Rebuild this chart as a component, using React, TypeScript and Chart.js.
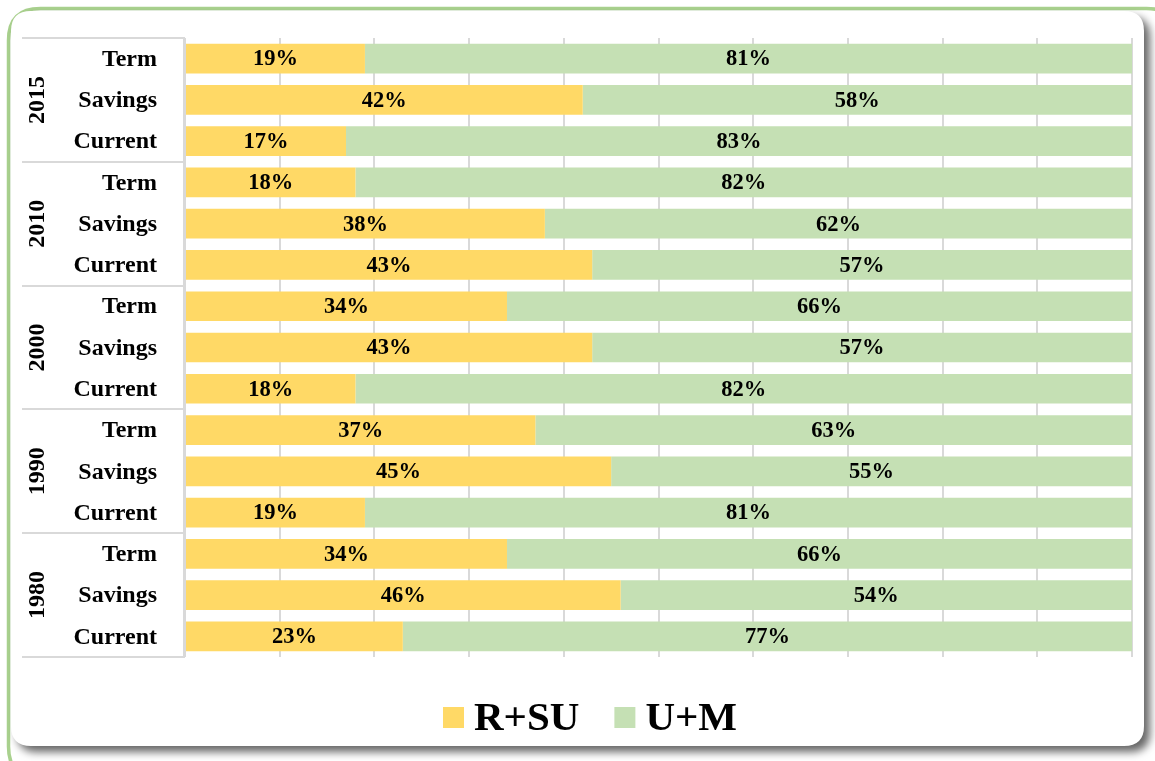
import React, { useEffect, useRef } from 'react';
import { Chart, registerables } from 'chart.js';

Chart.register(...registerables);

const years = ['2015', '2010', '2000', '1990', '1980'];
const accountTypes = ['Term', 'Savings', 'Current'];
const categories = years.flatMap((y) => accountTypes.map((t) => `${y} ${t}`));
const rsuValues = [19, 42, 17, 18, 38, 43, 34, 43, 18, 37, 45, 19, 34, 46, 23];
const umValues = [81, 58, 83, 82, 62, 57, 66, 57, 82, 63, 55, 81, 66, 54, 77];
const seriesNames = ['R+SU', 'U+M'];
const seriesColors = ['#FFD966', '#C5E0B4'];

const W = 1155;
const H = 761;
const SERIF = '"Liberation Serif", "Times New Roman", Times, serif';

function roundRect(ctx: CanvasRenderingContext2D, x: number, y: number, w: number, h: number, r: number) {
  ctx.beginPath();
  ctx.moveTo(x + r, y);
  ctx.lineTo(x + w - r, y);
  ctx.quadraticCurveTo(x + w, y, x + w, y + r);
  ctx.lineTo(x + w, y + h - r);
  ctx.quadraticCurveTo(x + w, y + h, x + w - r, y + h);
  ctx.lineTo(x + r, y + h);
  ctx.quadraticCurveTo(x, y + h, x, y + h - r);
  ctx.lineTo(x, y + r);
  ctx.quadraticCurveTo(x, y, x + r, y);
  ctx.closePath();
}

const framePlugin = {
  id: 'frame',
  beforeDraw(chart: any) {
    const ctx = chart.ctx as CanvasRenderingContext2D;
    ctx.save();
    ctx.fillStyle = '#ffffff';
    ctx.fillRect(0, 0, W, H);
    ctx.strokeStyle = '#A9D18E';
    ctx.lineWidth = 3.5;
    roundRect(ctx, 8.5, 8.5, 1170, 770, 32);
    ctx.stroke();
    ctx.shadowColor = 'rgba(0,0,0,0.6)';
    ctx.shadowBlur = 8;
    ctx.shadowOffsetX = 6;
    ctx.shadowOffsetY = 6;
    ctx.fillStyle = '#ffffff';
    roundRect(ctx, 11, 11, 1133, 735, 20);
    ctx.fill();
    ctx.restore();
  },
};

const overlayPlugin = {
  id: 'overlay',
  afterDatasetsDraw(chart: any) {
    const ctx = chart.ctx as CanvasRenderingContext2D;
    const area = chart.chartArea;
    const yScale = chart.scales.y;
    ctx.save();

    // table lines on the left
    ctx.strokeStyle = '#D9D9D9';
    ctx.lineWidth = 2;
    const groupH = (area.bottom - area.top) / years.length;
    for (let k = 0; k <= years.length; k++) {
      const yy = Math.round(area.top + k * groupH);
      ctx.beginPath();
      ctx.moveTo(22, yy);
      ctx.lineTo(area.left, yy);
      ctx.stroke();
    }
    ctx.beginPath();
    ctx.moveTo(area.left - 1, area.top);
    ctx.lineTo(area.left - 1, area.bottom);
    ctx.stroke();

    // category labels
    ctx.fillStyle = '#000000';
    ctx.font = `bold 24px ${SERIF}`;
    ctx.textAlign = 'right';
    ctx.textBaseline = 'middle';
    categories.forEach((_, i) => {
      const yy = yScale.getPixelForValue(i);
      ctx.fillText(accountTypes[i % accountTypes.length], 157, yy + 1);
    });

    // year labels (rotated)
    years.forEach((yr, g) => {
      const cy = area.top + (g + 0.5) * groupH;
      ctx.save();
      ctx.translate(38, cy);
      ctx.rotate(-Math.PI / 2);
      ctx.textAlign = 'center';
      ctx.textBaseline = 'middle';
      ctx.fillText(yr, 0, 0);
      ctx.restore();
    });

    // data labels
    ctx.font = `bold 22.5px ${SERIF}`;
    ctx.textAlign = 'center';
    ctx.textBaseline = 'middle';
    chart.data.datasets.forEach((ds: any, di: number) => {
      const meta = chart.getDatasetMeta(di);
      meta.data.forEach((el: any, i: number) => {
        const p = el.getProps(['x', 'base', 'y'], true);
        ctx.fillText(`${ds.data[i]}%`, (p.x + p.base) / 2, p.y + 1);
      });
    });

    // legend
    ctx.textAlign = 'left';
    ctx.textBaseline = 'alphabetic';
    ctx.font = `bold 41px ${SERIF}`;
    let lx = 443;
    const boxTop = 707;
    const box = 21;
    seriesNames.forEach((name, i) => {
      ctx.fillStyle = seriesColors[i];
      ctx.fillRect(lx, boxTop, box, box);
      ctx.fillStyle = '#000000';
      ctx.fillText(name, lx + box + 10, 730);
      lx += box + 10 + ctx.measureText(name).width + 35;
    });

    ctx.restore();
  },
};

export default function App() {
  const ref = useRef<HTMLCanvasElement | null>(null);

  useEffect(() => {
    if (!ref.current) return;
    const chart = new Chart(ref.current, {
      type: 'bar',
      data: {
        labels: categories,
        datasets: seriesNames.map((name, i) => ({
          label: name,
          data: i === 0 ? rsuValues : umValues,
          backgroundColor: seriesColors[i],
          borderWidth: 0,
          categoryPercentage: 1,
          barPercentage: 0.72,
        })),
      },
      options: {
        indexAxis: 'y',
        responsive: false,
        animation: false,
        devicePixelRatio: 1,
        layout: { padding: { left: 185, top: 38, right: 23, bottom: 104 } },
        plugins: {
          legend: { display: false },
          tooltip: { enabled: false },
        },
        scales: {
          x: {
            stacked: true,
            min: 0,
            max: 100,
            ticks: { display: false, stepSize: 10 },
            grid: { color: '#D9D9D9', lineWidth: 2, drawTicks: false },
            border: { display: false },
            afterFit: (s: any) => {
              s.height = 0;
            },
          },
          y: {
            stacked: true,
            display: false,
          },
        },
      },
      plugins: [framePlugin, overlayPlugin],
    });
    return () => chart.destroy();
  }, []);

  return (
    <div style={{ position: 'fixed', left: 0, top: 0, width: W, height: H }}>
      <canvas ref={ref} width={W} height={H} style={{ display: 'block' }} />
    </div>
  );
}
